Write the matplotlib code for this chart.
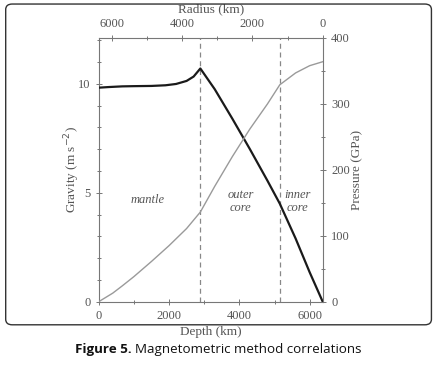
import numpy as np
import matplotlib.pyplot as plt
from matplotlib.patches import FancyBboxPatch

# ============================================================
# Data (PREM-like profiles)
# ============================================================

depth_g = [0, 300, 670, 1000, 1500, 1900, 2200, 2500, 2700, 2891,
           3300, 3800, 4300, 4800, 5150, 5600, 6000, 6371]
gravity = [9.82, 9.85, 9.88, 9.89, 9.90, 9.93, 9.99, 10.13, 10.33, 10.70,
           9.75, 8.40, 7.00, 5.55, 4.50, 2.90, 1.35, 0.0]

depth_p = [0, 400, 670, 1000, 1500, 2000, 2500, 2891,
           3300, 3800, 4300, 4800, 5150, 5600, 6000, 6371]
pressure = [0, 13, 24, 38, 61, 85, 111, 136,
            175, 220, 262, 300, 329, 347, 358, 364]

boundaries = [2891, 5150]

depth_ticks = [0, 2000, 4000, 6000]
radius_ticks = [6000, 4000, 2000, 0]

R_EARTH = 6371

# ============================================================
# Figure
# ============================================================

serif = "Liberation Serif"
txt = "#555555"

fig = plt.figure(figsize=(4.38, 3.67), dpi=100)

frame = FancyBboxPatch((0.013, 0.115), 0.972, 0.874,
                       boxstyle="round,pad=0,rounding_size=0.015",
                       transform=fig.transFigure, fill=False,
                       edgecolor="#333333", linewidth=1.0)
fig.patches.append(frame)

ax = fig.add_axes([0.2253, 0.1779, 0.7368 - 0.2253, 0.8965 - 0.1779])

ax.plot(depth_g, gravity, color="#1a1a1a", linewidth=1.6, zorder=3)
for b in boundaries:
    ax.axvline(b, color="#888888", linestyle=(0, (4, 3)), linewidth=0.9)

ax.set_xlim(0, R_EARTH)
ax.set_ylim(0, 12.1)
ax.set_xticks(depth_ticks)
ax.set_xticks(np.arange(1000, 6001, 2000), minor=True)
ax.set_yticks([0, 5, 10])
ax.set_yticks(np.arange(0, 13, 1), minor=True)

for s in ["top", "right"]:
    ax.spines[s].set_visible(False)
for s in ["left", "bottom"]:
    ax.spines[s].set_color("#777777")
    ax.spines[s].set_linewidth(0.8)

ax.tick_params(axis="both", which="both", direction="inout", colors="#777777",
               labelcolor=txt, labelsize=9, width=0.7)
ax.tick_params(which="major", length=5)
ax.tick_params(which="minor", length=3)
for lab in ax.get_xticklabels() + ax.get_yticklabels():
    lab.set_family(serif)

ax.set_xlabel("Depth (km)", family=serif, fontsize=9.5, color=txt, labelpad=3)
ax.set_ylabel(r"Gravity (m s$^{-2}$)", family=serif, fontsize=9.5, color=txt,
              labelpad=-3)

# pressure axis
ax2 = ax.twinx()
ax2.plot(depth_p, pressure, color="#9a9a9a", linewidth=1.0, zorder=2)
ax2.set_ylim(0, 400)
ax2.set_yticks([0, 100, 200, 300, 400])
ax2.set_yticks(np.arange(0, 401, 50), minor=True)
for s in ["top", "left", "bottom"]:
    ax2.spines[s].set_visible(False)
ax2.spines["right"].set_color("#777777")
ax2.spines["right"].set_linewidth(0.8)
ax2.tick_params(axis="y", which="both", direction="inout", colors="#777777",
                labelcolor=txt, labelsize=9, width=0.7)
ax2.tick_params(which="major", length=5)
ax2.tick_params(which="minor", length=3)
for lab in ax2.get_yticklabels():
    lab.set_family(serif)
ax2.set_ylabel("Pressure (GPa)", family=serif, fontsize=9.5, color=txt,
               labelpad=1)

# radius axis on top
ax3 = ax.secondary_xaxis("top", functions=(lambda d: R_EARTH - d,
                                            lambda r: R_EARTH - r))
ax3.set_xticks(radius_ticks)
ax3.set_xticks([5000, 3000, 1000], minor=True)
ax3.spines["top"].set_color("#777777")
ax3.spines["top"].set_linewidth(0.8)
ax3.tick_params(which="both", direction="inout", colors="#777777",
                labelcolor=txt, labelsize=9, width=0.7)
ax3.tick_params(which="major", length=5)
ax3.tick_params(which="minor", length=3)
for lab in ax3.get_xticklabels():
    lab.set_family(serif)
ax3.set_xlabel("Radius (km)", family=serif, fontsize=9.5, color=txt, labelpad=4)

# region labels
lab_kw = dict(family=serif, fontsize=9, style="italic", color=txt,
              ha="center", va="center")
ax.text(1400, 4.65, "mantle", **lab_kw)
ax.text(4030, 4.6, "outer\ncore", linespacing=1.1, **lab_kw)
ax.text(5650, 4.6, "inner\ncore", linespacing=1.1, **lab_kw)

# caption
cap_y = 0.047
t1 = fig.text(0.171, cap_y, "Figure 5.", ha="left", va="center",
              fontsize=9.6, family="Open Sans", fontweight="bold",
              color="#111111")
fig.canvas.draw()
bb = t1.get_window_extent()
fig.text(bb.x1 / fig.bbox.width + 0.007, cap_y,
         "Magnetometric method correlations", ha="left", va="center",
         fontsize=9.6, family="Open Sans", color="#111111")

fig.savefig("out.png", dpi=100)
